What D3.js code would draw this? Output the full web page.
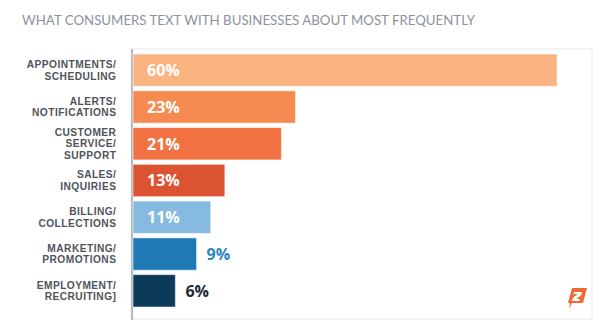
<!DOCTYPE html>
<html><head><meta charset="utf-8">
<script src="https://cdn.jsdelivr.net/npm/d3@7"></script>
<style>body{margin:0;background:#fff;}svg{display:block;}</style>
</head><body>
<svg id="chart" width="600" height="334"></svg>
<script>
const title = "WHAT CONSUMERS TEXT WITH BUSINESSES ABOUT MOST FREQUENTLY";
const categories = [
  ["APPOINTMENTS/","SCHEDULING"],
  ["ALERTS/","NOTIFICATIONS"],
  ["CUSTOMER","SERVICE/","SUPPORT"],
  ["SALES/","INQUIRIES"],
  ["BILLING/","COLLECTIONS"],
  ["MARKETING/","PROMOTIONS"],
  ["EMPLOYMENT/","RECRUITING]"]
];
const values = [60, 23, 21, 13, 11, 9, 6];
const barColors = ["#FBB381","#F68B52","#F27243","#DC5332","#86BAE1","#1F79B5","#0C3A59"];
const outsideLabelColors = ["#fff","#fff","#fff","#fff","#fff","#2A86C5","#1A2A3A"];
const insideThreshold = 10;

const svg = d3.select("#chart");
const plot = {left:133, right:593, top:49, bottom:319};

svg.append("text").attr("x",22).attr("y",25)
  .attr("font-family","Lato").attr("font-size",13.6).attr("fill","#8E939B")
  .attr("textLength",453).attr("lengthAdjust","spacingAndGlyphs")
  .text(title);

// frame
svg.append("rect").attr("x",plot.left-1).attr("y",plot.top)
  .attr("width",plot.right-plot.left).attr("height",plot.bottom-plot.top)
  .attr("fill","#fff").attr("stroke","#EEF0F3").attr("stroke-width",1.5);

const x = d3.scaleLinear().domain([0,60]).range([plot.left, 557]);
const y = d3.scaleBand().domain(d3.range(values.length)).range([54,307]).paddingInner(0.12).paddingOuter(0);

// axis line
svg.append("line").attr("x1",plot.left-1).attr("x2",plot.left-1)
  .attr("y1",plot.top).attr("y2",plot.bottom+1)
  .attr("stroke","#B4B8BF").attr("stroke-width",2.2);

const g = svg.append("g");
g.selectAll("rect.bar").data(values).join("rect").attr("class","bar")
  .attr("x",x(0)).attr("y",(d,i)=>y(i))
  .attr("width",d=>x(d)-x(0)).attr("height",y.bandwidth())
  .attr("fill",(d,i)=>barColors[i])
  .attr("stroke","rgba(255,255,255,0.55)").attr("stroke-width",1);

g.selectAll("text.val").data(values).join("text").attr("class","val")
  .attr("x",d=> d>=insideThreshold ? x(0)+14 : x(d)+10)
  .attr("y",(d,i)=>y(i)+y.bandwidth()/2)
  .attr("dy","0.37em")
  .attr("font-family","Open Sans").attr("font-weight",700).attr("font-size",16)
  .attr("fill",(d,i)=> d>=insideThreshold ? "#fff" : outsideLabelColors[i])
  .text(d=>d+"%");

// category labels
const lh = 11.5;
categories.forEach((lines,i)=>{
  const cy = y(i)+y.bandwidth()/2;
  const t = svg.append("text").attr("text-anchor","end")
    .attr("font-family","Liberation Sans").attr("font-weight",700).attr("font-size",10.2)
    .attr("letter-spacing",0.45)
    .attr("fill","#4F545B");
  lines.forEach((s,j)=>{
    t.append("tspan").attr("x",116.4)
      .attr("y", cy + (j - (lines.length-1)/2)*lh)
      .attr("dy","0.36em").text(s);
  });
});

// logo
const logo = svg.append("g").attr("transform","translate(567,288)");
logo.append("path").attr("d","M5,0 L20,0 L16,15 L5,15 L2,21 L3,15 L1,15 Z").attr("fill","#F26A36");
logo.append("path").attr("d","M7,4 L15,4 L14.2,7 L9.5,11 L13,11 L12.4,13 L5,13 L5.8,10 L10.5,6 L6.5,6 Z").attr("fill","#fff");
</script>
</body></html>
